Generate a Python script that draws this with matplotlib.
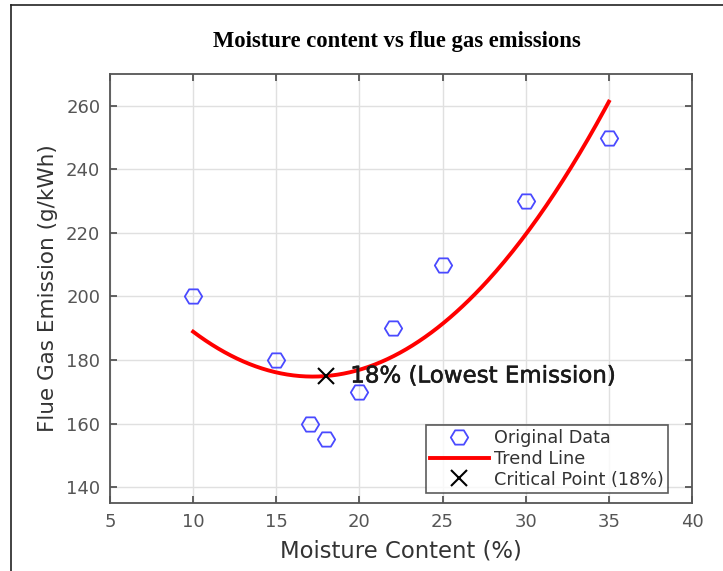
import numpy as np
import matplotlib
matplotlib.use("Agg")
import matplotlib.pyplot as plt
from matplotlib.lines import Line2D
from matplotlib.path import Path
import matplotlib.patheffects as pe

# Data
moisture = [10, 15, 17, 18, 20, 22, 25, 30, 35]
emission = [200, 180, 160, 155, 170, 190, 210, 230, 250]
critical_x = 18
title = "Moisture content vs flue gas emissions"
xlabel = "Moisture Content (%)"
ylabel = "Flue Gas Emission (g/kWh)"
annot_text = "18% (Lowest Emission)"
xticks = [5, 10, 15, 20, 25, 30, 35, 40]
yticks = [140, 160, 180, 200, 220, 240, 260]

# Quadratic trend fitted to the data
coef = np.polyfit(moisture, emission, 2)
xfit = np.linspace(min(moisture), max(moisture), 200)
yfit = np.polyval(coef, xfit)
critical_y = np.polyval(coef, critical_x)

# slightly wide open hexagon-like marker
t = np.linspace(0, 2 * np.pi, 7)
hexm = Path(np.column_stack([np.cos(t), 0.95 * np.sin(t)]), closed=True)

fig = plt.figure(figsize=(7.23, 5.71), dpi=100)
ax = fig.add_axes([110/723, 1-503/571, (692-110)/723, (503-74)/571])

ax.plot(moisture, emission, linestyle="none", marker=hexm, markersize=12.5,
        markerfacecolor="none", markeredgecolor="#4a4aff", markeredgewidth=1.3,
        label="Original Data", zorder=3)
ax.plot(xfit, yfit, color="#ff0000", linewidth=2.8, label="Trend Line", zorder=4)
ax.plot([critical_x], [critical_y], linestyle="none", marker="x", markersize=11,
        markeredgewidth=1.5, color="black", label="Critical Point (18%)", zorder=5)
ax.text(critical_x + 1.45, critical_y, annot_text, fontsize=16.5, color="#1a1a1a",
        va="center", ha="left", zorder=6,
        path_effects=[pe.withStroke(linewidth=0.4, foreground="#1a1a1a")])

ax.set_xlim(5, 40)
ax.set_ylim(135, 270)
ax.set_xticks(xticks)
ax.set_yticks(yticks)
ax.grid(True, color="#e0e0e0", linewidth=1.0)
ax.set_axisbelow(True)
for s in ax.spines.values():
    s.set_color("#555555")
    s.set_linewidth(1.3)
ax.tick_params(direction="in", length=5, width=1.3, color="#555555",
               labelcolor="#555555", labelsize=13, top=True, right=True, pad=7)

ax.set_xlabel(xlabel, fontsize=16.4, color="#333333", labelpad=6)
ax.set_ylabel(ylabel, fontsize=15.5, color="#333333", labelpad=6)

leg = ax.legend(loc="lower right", bbox_to_anchor=((668-110)/582, (503-493)/429),
                fontsize=12.7, frameon=True, fancybox=False, edgecolor="#333333",
                handlelength=3.3, handletextpad=0.3, labelspacing=0.15,
                borderpad=0.25, borderaxespad=0)
leg.get_frame().set_linewidth(1.2)
for t_ in leg.get_texts():
    t_.set_color("#333333")

fig.text(397/723, 1-41/571, title, ha="center", va="center",
         fontfamily="Liberation Serif", fontweight="bold", fontsize=16.3)

# Figure border (left and top)
fig.add_artist(Line2D([11/723, 11/723], [0, 1-5/571], transform=fig.transFigure,
                      color="#222222", linewidth=1.2))
fig.add_artist(Line2D([11/723, 1], [1-5/571, 1-5/571], transform=fig.transFigure,
                      color="#222222", linewidth=1.2))

fig.savefig("out.png", dpi=100)
